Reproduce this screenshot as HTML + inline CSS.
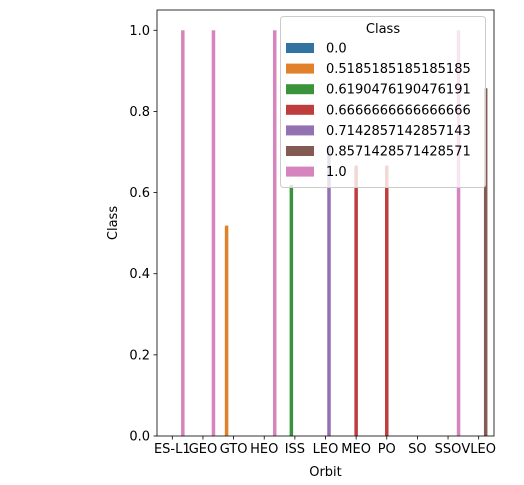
<!DOCTYPE html>
<html><head><meta charset="utf-8"><style>
body{margin:0;background:#fff;}
svg{display:block;font-family:"DejaVu Sans","Liberation Sans",sans-serif;}
</style></head><body>
<svg id="chart" width="524" height="485" viewBox="0 0 524 485">
<g id="bars"></g>
<g id="axes"></g>
<g id="legend"></g>
</svg>
<script>
const categories=["ES-L1","GEO","GTO","HEO","ISS","LEO","MEO","PO","SO","SSO","VLEO"];
const hueLevels=["0.0","0.5185185185185185","0.6190476190476191","0.6666666666666666","0.7142857142857143","0.8571428571428571","1.0"];
const hueColors=["#3274a1","#e1812c","#3a923a","#c03d3e","#9372b2","#845b53","#d684bd"];
const barHue=[6,6,1,6,2,4,3,3,0,6,5];
const barValues=[1.0,1.0,0.5185185185185185,1.0,0.6190476190476191,0.7142857142857143,0.6666666666666666,0.6666666666666666,0.0,1.0,0.8571428571428571];
const yTicks=[0,0.2,0.4,0.6,0.8,1.0];
const yTickLabels=["0.0","0.2","0.4","0.6","0.8","1.0"];

const NS="http://www.w3.org/2000/svg";
const L=157,R=494,T=10,B=436;
const yMax=1.05;
const step=(R-L)/categories.length;
const xC=i=>L+step*(i+0.5);
const y=v=>B-(v/yMax)*(B-T);
function mk(tag,attrs,parent,text){const e=document.createElementNS(NS,tag);for(const k in attrs)e.setAttribute(k,attrs[k]);if(text!==undefined)e.textContent=text;parent.appendChild(e);return e;}
const bars=document.getElementById('bars'),axes=document.getElementById('axes'),leg=document.getElementById('legend');
const bw=step*0.8/hueLevels.length;
categories.forEach((c,i)=>{
  const h=barHue[i];
  const cx=xC(i)+(-0.4+(h+0.5)*0.8/hueLevels.length)*step;
  const r=mk('rect',{x:cx-bw/2,y:y(barValues[i]),width:bw,height:B-y(barValues[i]),fill:hueColors[h]},bars);
  
  
});
mk('rect',{x:L,y:T,width:R-L,height:B-T,fill:'none',stroke:'#000','stroke-width':0.8},axes);
categories.forEach((c,i)=>{
  mk('line',{x1:xC(i),y1:B,x2:xC(i),y2:B+3.5,stroke:'#000','stroke-width':0.8},axes);
  const t=mk('text',{x:xC(i),y:B+17,'font-size':13,'text-anchor':'middle'},axes,c);
  
  
});
yTicks.forEach((v,i)=>{
  mk('line',{x1:L-3.5,y1:y(v),x2:L,y2:y(v),stroke:'#000','stroke-width':0.8},axes);
  const t=mk('text',{x:L-7,y:y(v)+4.5,'font-size':13,'text-anchor':'end'},axes,yTickLabels[i]);
  
  
});
const xt=mk('text',{x:(L+R)/2,y:476,'font-size':13,'text-anchor':'middle'},axes,'Orbit');


const yt=mk('text',{x:0,y:0,'font-size':13,'text-anchor':'middle',transform:'translate(117,223) rotate(-90)'},axes,'Class');


mk('rect',{x:280.5,y:16.5,width:205,height:171,rx:3,fill:'rgba(255,255,255,0.8)',stroke:'#cccccc','stroke-width':1},leg);
const lt=mk('text',{x:383,y:33,'font-size':13,'text-anchor':'middle'},leg,'Class');


hueLevels.forEach((h,i)=>{
  const yy=48+i*20.6;
  const g=mk('g',{},leg);
  
  
  mk('rect',{x:286,y:yy-5,width:28,height:10,fill:hueColors[i]},g);
  mk('text',{x:326,y:yy+4.5,'font-size':13},g,h);
});
</script>
</body></html>
